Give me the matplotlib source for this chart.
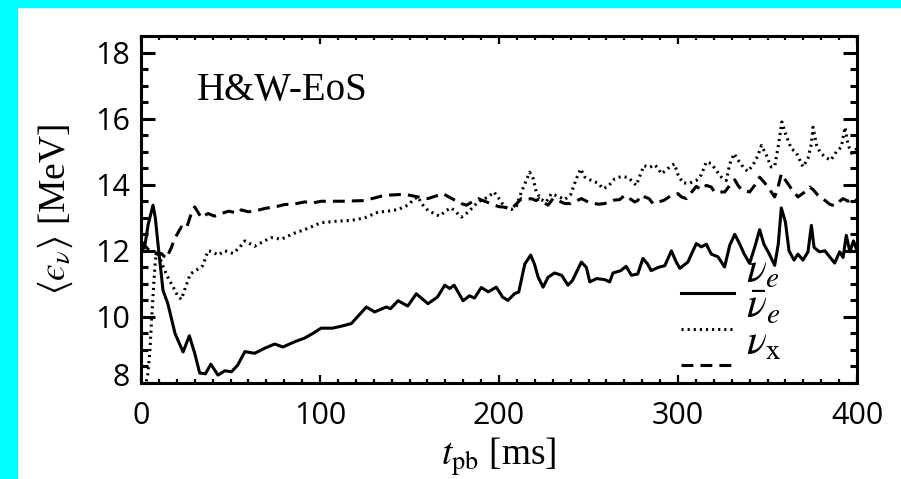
import numpy as np
import matplotlib.pyplot as plt
from matplotlib.patches import Rectangle
from matplotlib.ticker import MultipleLocator
from matplotlib.transforms import ScaledTranslation

plt.rcParams['font.family'] = 'Open Sans'
plt.rcParams['mathtext.fontset'] = 'stix'

# mean energies of nu_e, anti-nu_e and nu_x vs post-bounce time
t_nue = [0, 2, 4, 6.7, 8, 9.5, 12.3, 15, 19, 23.5, 27, 30, 32.8, 36, 39, 43, 46.8, 50.5,
         54, 58, 63.5, 69, 74.7, 79.3, 85.9, 91.4, 96, 100.6, 107, 112, 117.5, 125.9,
         130.5, 137, 139.4, 143.6, 149, 153.8, 160.3, 165.6, 169.7, 172.5, 174.9, 179.9,
         183.5, 186.3, 190.1, 194, 198.5, 202, 205, 208.8, 211, 214.4, 217.7, 219.8,
         221.8, 224.6, 227.4, 231, 235, 238.5, 241, 246, 248.8, 250.7, 254.5, 259,
         261.8, 263.7, 268, 271, 274, 277.5, 280.4, 283, 285, 289, 292.6, 296.3, 299,
         301, 305.5, 310.2, 313, 315.8, 318.6, 322.3, 326, 328.9, 331.7, 334.5, 337,
         340, 342.8, 345.6, 348, 351, 354, 356, 357.7, 360, 362, 364.8, 367, 369.8,
         372.6, 374.5, 376, 379, 382, 384.7, 387.5, 390.3, 392.2, 394, 396, 398, 400]
e_nue = [12.0, 12.1, 12.8, 13.38, 13.0, 12.2, 10.8, 10.4, 9.5, 8.94, 9.43, 8.9, 8.3, 8.28,
         8.57, 8.24, 8.37, 8.34, 8.54, 8.95, 8.9, 9.05, 9.18, 9.09, 9.25, 9.36, 9.5, 9.66,
         9.66, 9.72, 9.8, 10.3, 10.15, 10.3, 10.25, 10.49, 10.33, 10.7, 10.4, 10.6, 10.96,
         10.86, 10.96, 10.49, 10.64, 10.57, 10.89, 10.76, 10.9, 10.6, 10.5, 10.71, 10.75,
         11.6, 11.87, 11.6, 11.21, 10.9, 11.2, 11.33, 11.26, 10.96, 11.1, 11.66, 11.5,
         11.06, 11.16, 11.13, 11.06, 11.33, 11.4, 11.53, 11.26, 11.3, 11.77, 11.6, 11.4,
         11.5, 11.55, 12.0, 11.66, 11.47, 11.66, 12.22, 12.12, 12.2, 11.9, 11.82, 11.51,
         12.17, 12.5, 12.2, 11.9, 11.62, 12.1, 12.64, 12.2, 11.9, 11.56, 12.2, 13.3,
         12.87, 12.0, 11.72, 11.9, 11.72, 11.97, 12.77, 12.1, 11.97, 12.0, 11.82, 11.63,
         11.97, 11.8, 12.47, 11.97, 12.3, 12.0]

t_nuebar = [3, 3.9, 5, 6, 7, 8, 9, 10.5, 12.5, 15, 18, 20.3, 22.5, 25.3, 27.5, 30.9, 34.6,
            37.4, 40, 43, 46.9, 51.4, 55, 58, 63.5, 69, 72.8, 78.4, 85.9, 91.4, 97, 100.7,
            110, 117.5, 125, 132.4, 138, 143.6, 149, 152.9, 154.8, 156.7, 160.3, 164,
            166.8, 170.5, 173.3, 176, 179, 182.7, 188.3, 193.9, 197.2, 200.4, 203, 206.9,
            209.7, 212.5, 215, 217.1, 219, 220.8, 223.6, 226.4, 229.2, 233, 236.7, 240,
            243.2, 245.6, 248, 251.5, 255.3, 258.1, 261, 264.6, 268.3, 272, 274.9, 276.7,
            279.1, 281, 284, 287, 288.8, 290.7, 293.5, 296.3, 298, 300, 302.8, 306.5,
            310.2, 313, 315.8, 318.6, 321.4, 324.2, 327, 328.9, 331.3, 333.5, 336.3, 339,
            341.9, 344.7, 346.6, 349.4, 352, 354, 355.9, 358, 360.3, 363.3, 366, 369.8,
            372.6, 374.5, 375.4, 377.4, 379.2, 382, 385.3, 388.5, 391.2, 393.3, 395, 397, 400]
e_nuebar = [8.05, 8.3, 9.0, 10.0, 10.9, 11.7, 12.0, 11.8, 11.5, 11.2, 10.9, 10.66, 10.53,
            10.96, 11.3, 11.41, 11.56, 12.0, 11.97, 11.87, 12.0, 11.92, 12.1, 12.3, 12.14,
            12.3, 12.4, 12.35, 12.54, 12.64, 12.77, 12.85, 12.9, 12.92, 13.0, 13.17, 13.2,
            13.25, 13.38, 13.58, 13.63, 13.43, 13.22, 13.12, 13.05, 13.22, 13.3, 13.17,
            13.02, 13.17, 13.48, 13.63, 13.78, 13.55, 13.33, 13.25, 13.35, 13.78, 14.1,
            14.38, 14.2, 13.78, 13.55, 13.48, 13.73, 13.65, 13.55, 13.7, 14.18, 14.48,
            14.23, 14.13, 14.05, 13.88, 13.95, 14.18, 14.25, 14.22, 14.08, 13.98, 14.33,
            14.58, 14.52, 14.6, 14.5, 14.33, 14.45, 14.58, 14.63, 14.3, 14.05, 14.05, 14.13,
            14.3, 14.69, 14.64, 14.43, 14.23, 14.13, 14.63, 14.94, 14.75, 14.54, 14.4, 14.6,
            14.89, 15.19, 14.89, 14.54, 14.55, 15.14, 15.9, 15.5, 15.09, 14.98, 14.54, 14.8,
            15.24, 15.74, 15.2, 15.0, 14.84, 14.74, 15.0, 15.14, 15.74, 15.2, 14.95, 15.1]

t_nux = [0, 3, 6, 9, 11.3, 14.1, 17, 18.8, 22.5, 25.3, 28.1, 30, 33.7, 37.4, 41, 44.9, 49,
         54.2, 56, 60, 65.4, 69, 76.5, 80.2, 86, 91.4, 96, 100.7, 111.8, 124.8, 136.1,
         147.3, 154.8, 160.3, 168.7, 173, 179, 181.8, 188.3, 192, 197.6, 200.4, 202, 206.9,
         209.7, 212.5, 215, 218, 220.8, 222.5, 224.6, 227.4, 230.2, 233, 236.7, 240, 246,
         249.7, 255.3, 259, 263.7, 267.4, 270.2, 275.8, 277.5, 279.1, 283.8, 286, 292.2,
         296.3, 300, 301.9, 304.7, 310.2, 313, 315.8, 318.6, 320.4, 326.1, 328.9, 331.7,
         333.5, 335.4, 340, 342.8, 345.6, 348.5, 352.1, 354, 356, 357.7, 360.5, 363.3, 367,
         370.8, 373.6, 375.5, 378.2, 382, 384.7, 387.5, 390.3, 392.2, 395, 398, 400]
e_nux = [12.3, 12.1, 11.95, 11.9, 11.92, 11.77, 12.1, 12.37, 12.72, 12.67, 13.13, 13.33,
         13.0, 13.13, 13.05, 13.13, 13.2, 13.14, 13.24, 13.18, 13.23, 13.28, 13.35, 13.4,
         13.42, 13.48, 13.45, 13.5, 13.5, 13.52, 13.68, 13.71, 13.63, 13.58, 13.73, 13.6,
         13.43, 13.38, 13.58, 13.5, 13.38, 13.33, 13.33, 13.27, 13.42, 13.58, 13.55, 13.58,
         13.52, 13.58, 13.48, 13.38, 13.58, 13.52, 13.43, 13.43, 13.58, 13.48, 13.41, 13.43,
         13.53, 13.55, 13.68, 13.48, 13.52, 13.68, 13.58, 13.43, 13.53, 13.68, 13.73, 13.63,
         13.58, 13.95, 13.85, 13.98, 13.93, 13.78, 13.78, 13.98, 14.15, 13.98, 13.85, 13.78,
         13.98, 14.23, 14.05, 13.78, 13.63, 13.95, 14.33, 14.1, 13.88, 13.63, 13.78, 13.93,
         13.85, 13.68, 13.53, 13.41, 13.36, 13.5, 13.58, 13.5, 13.6, 13.5]

x_ticks = [0, 100, 200, 300, 400]
y_ticks = [8, 10, 12, 14, 16, 18]

fig = plt.figure(figsize=(9.01, 4.79), dpi=100)
# cyan frame strips on top and left
fig.patches.append(Rectangle((0, 1 - 7 / 479), 1, 7 / 479, transform=fig.transFigure,
                             color='#00ffff', zorder=-1))
fig.patches.append(Rectangle((0, 0), 17 / 901, 1, transform=fig.transFigure,
                             color='#00ffff', zorder=-1))

ax = fig.add_axes([0.1565, 0.2004, 0.7947, 0.7244])
ax.plot(t_nue, e_nue, color='k', lw=2.2, label=r'$\nu_e$')
ax.plot(t_nuebar, e_nuebar, color='k', lw=2.2, linestyle=(0, (0.7, 1.3)), label=r'$\bar{\nu}_e$')
ax.plot(t_nux, e_nux, color='k', lw=2.2, linestyle=(0, (3.9, 2.3)), label=r'$\nu_{\rm x}$')

ax.set_xlim(0, 400)
ax.set_ylim(8, 18.5)
ax.set_xticks(x_ticks)
ax.set_yticks(y_ticks)
ax.xaxis.set_minor_locator(MultipleLocator(10))
ax.yaxis.set_minor_locator(MultipleLocator(0.5))
ax.tick_params(which='both', direction='in', top=True, right=True, labelsize=22)
ax.tick_params(axis='y', which='major', length=10, width=2.2, pad=8)
ax.tick_params(axis='y', which='minor', length=5, width=2.2)
ax.tick_params(axis='x', which='major', length=5.5, width=1.6, pad=13)
ax.tick_params(axis='x', which='minor', length=2.8, width=1.6)
for sp in ax.spines.values():
    sp.set_linewidth(2.2)

# bottom y label sits a little higher
lab8 = ax.yaxis.get_major_ticks()[0].label1
lab8.set_transform(lab8.get_transform() + ScaledTranslation(0, 0.09, fig.dpi_scale_trans))

ax.set_xlabel(r'$t_{\rm pb}$ [ms]', fontsize=27, fontfamily='Liberation Serif')
ax.set_ylabel('$\\langle ϵ_\\nu\\rangle$ [MeV]', fontsize=27, fontfamily='Liberation Serif')
ax.xaxis.set_label_coords(0.5, -0.15)
ax.yaxis.set_label_coords(-0.092, 0.5)

ax.text(0.078, 0.816, 'H&W-EoS', transform=ax.transAxes, fontsize=28,
        fontfamily='Liberation Serif', va='baseline')

leg = ax.legend(frameon=False, loc='lower right', bbox_to_anchor=(0.895, -0.015), fontsize=30,
                handlelength=1.27, handletextpad=0.29, labelspacing=-0.15, borderpad=0,
                borderaxespad=0, handleheight=0.5)
# labels ride above their line samples
for txt in leg.get_texts():
    txt.set_transform(txt.get_transform() + ScaledTranslation(0, 0.24, fig.dpi_scale_trans))

plt.savefig('out.png', dpi=100)
plt.close()
